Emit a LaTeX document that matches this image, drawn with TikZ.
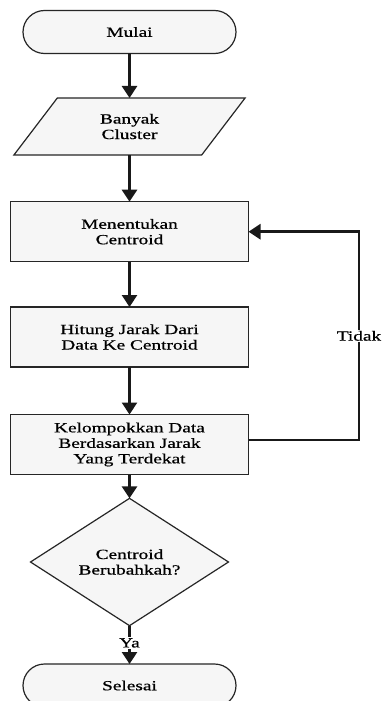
\documentclass[tikz,border=0pt]{standalone}
\usepackage{fontspec}
\setmainfont[FakeStretch=1.38,FakeBold=0.7]{Liberation Serif}
\usetikzlibrary{arrows.meta,shapes.geometric,shapes.misc,positioning}
\tikzset{
  base/.style={draw=black!85, line width=1.2pt, fill=gray!7, align=center, inner sep=0pt, outer sep=0pt,
    font=\fontsize{14}{15.5}\selectfont},
  term/.style={base, rounded rectangle, minimum width=213, minimum height=43},
  io/.style={base, trapezium, trapezium stretches=true, trapezium left angle=55, trapezium right angle=125,
    minimum width=233, minimum height=57},
  proc/.style={base, rectangle, minimum width=238, minimum height=60},
  decide/.style={base, diamond, minimum width=198, minimum height=81},
  flow/.style={line width=2.8pt, draw=black!90, -{Triangle[width=15pt,length=12pt]}},
  lbl/.style={fill=white, inner sep=1pt, font=\fontsize{14}{15.5}\selectfont}
}
\begin{document}
\begin{tikzpicture}[x=1pt,y=-1pt]
\clip (0,0) rectangle (381,701);
\fill[white] (0,0) rectangle (381,701);
\node[term]   (mulai)  at (129.5,32)    {Mulai};
\node[io]     (banyak) at (129.5,126.5) {Banyak\\Cluster};
\node[proc]   (tentu)  at (129.5,231.7) {Menentukan\\Centroid};
\node[proc]   (hitung) at (129.5,337)   {Hitung Jarak Dari\\Data Ke Centroid};
\node[proc]   (kelom)  at (129.5,444.5) {Kelompokkan Data\\Berdasarkan Jarak\\Yang Terdekat};
\node[decide] (ubah)   at (129.5,562)   {Centroid\\Berubahkah?};
\node[term]   (selesai) at (129.5,685.5) {Selesai};
\coordinate (cr) at (359,440);
\draw[flow] (mulai) -- (banyak);
\draw[flow] (banyak) -- (tentu);
\draw[flow] (tentu) -- (hitung);
\draw[flow] (hitung) -- (kelom);
\draw[flow] (kelom) -- (ubah);
\draw[flow] (ubah) -- node[lbl, pos=0.45] {Ya} (selesai);
\draw[flow] (kelom.east |- cr) -- (cr) -- node[lbl, pos=0.5] {Tidak} (cr |- tentu.east) -- (tentu.east);
\end{tikzpicture}
\end{document}
